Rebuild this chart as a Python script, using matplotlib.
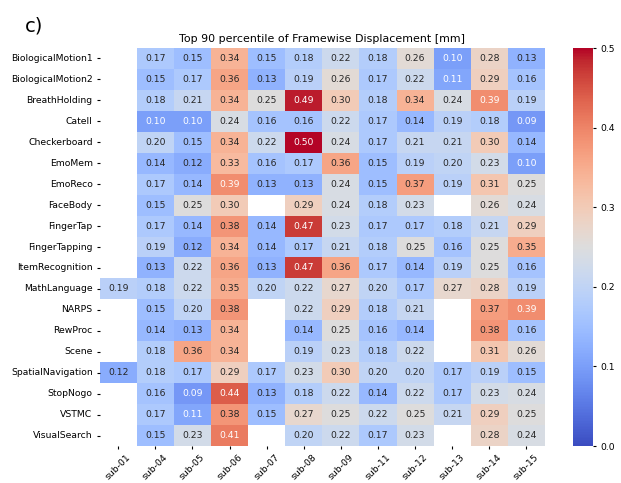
import numpy as np
import pandas as pd
import matplotlib
matplotlib.use("Agg")
import matplotlib.pyplot as plt
import seaborn as sns

subjects = ["sub-01", "sub-04", "sub-05", "sub-06", "sub-07", "sub-08",
            "sub-09", "sub-11", "sub-12", "sub-13", "sub-14", "sub-15"]
tasks = ["BiologicalMotion1", "BiologicalMotion2", "BreathHolding", "Catell",
         "Checkerboard", "EmoMem", "EmoReco", "FaceBody", "FingerTap",
         "FingerTapping", "ItemRecognition", "MathLanguage", "NARPS", "RewProc",
         "Scene", "SpatialNavigation", "StopNogo", "VSTMC", "VisualSearch"]
nan = np.nan
fd_values = [
    [nan, .17, .15, .34, .15, .18, .22, .18, .26, .10, .28, .13],
    [nan, .15, .17, .36, .13, .19, .26, .17, .22, .11, .29, .16],
    [nan, .18, .21, .34, .25, .49, .30, .18, .34, .24, .39, .19],
    [nan, .10, .10, .24, .16, .16, .22, .17, .14, .19, .18, .09],
    [nan, .20, .15, .34, .22, .50, .24, .17, .21, .21, .30, .14],
    [nan, .14, .12, .33, .16, .17, .36, .15, .19, .20, .23, .10],
    [nan, .17, .14, .39, .13, .13, .24, .15, .37, .19, .31, .25],
    [nan, .15, .25, .30, nan, .29, .24, .18, .23, nan, .26, .24],
    [nan, .17, .14, .38, .14, .47, .23, .17, .17, .18, .21, .29],
    [nan, .19, .12, .34, .14, .17, .21, .18, .25, .16, .25, .35],
    [nan, .13, .22, .36, .13, .47, .36, .17, .14, .19, .25, .16],
    [.19, .18, .22, .35, .20, .22, .27, .20, .17, .27, .28, .19],
    [nan, .15, .20, .38, nan, .22, .29, .18, .21, nan, .37, .39],
    [nan, .14, .13, .34, nan, .14, .25, .16, .14, nan, .38, .16],
    [nan, .18, .36, .34, nan, .19, .23, .18, .22, nan, .31, .26],
    [.12, .18, .17, .29, .17, .23, .30, .20, .20, .17, .19, .15],
    [nan, .16, .09, .44, .13, .18, .22, .14, .22, .17, .23, .24],
    [nan, .17, .11, .38, .15, .27, .25, .22, .25, .21, .29, .25],
    [nan, .15, .23, .41, nan, .20, .22, .17, .23, nan, .28, .24],
]
df = pd.DataFrame(fd_values, index=tasks, columns=subjects)

fs = 6.7
fig = plt.figure(figsize=(6.21, 4.83), dpi=100)
ax = fig.add_axes([0.1604, 0.0766, 0.7172, 0.824])
cax = fig.add_axes([0.9227, 0.0766, 0.0322, 0.824])
sns.heatmap(df, ax=ax, cbar_ax=cax, cmap="coolwarm", vmin=0.0, vmax=0.5,
            annot=True, fmt=".2f", annot_kws={"fontsize": fs})
ax.set_title("Top 90 percentile of Framewise Displacement [mm]", fontsize=7.9, pad=4)
ax.tick_params(axis="y", labelsize=fs, rotation=0, length=2.5, pad=2.5)
ax.tick_params(axis="x", labelsize=fs, length=2.5, pad=2.0)
plt.setp(ax.get_xticklabels(), rotation=45, ha="center", rotation_mode="default")
cax.set_yticks([0.0, 0.1, 0.2, 0.3, 0.4, 0.5])
cax.tick_params(labelsize=fs, length=2.5, pad=2.5)
fig.text(0.04, 0.935, "c)", fontsize=14)
fig.savefig("out.png", dpi=100)
